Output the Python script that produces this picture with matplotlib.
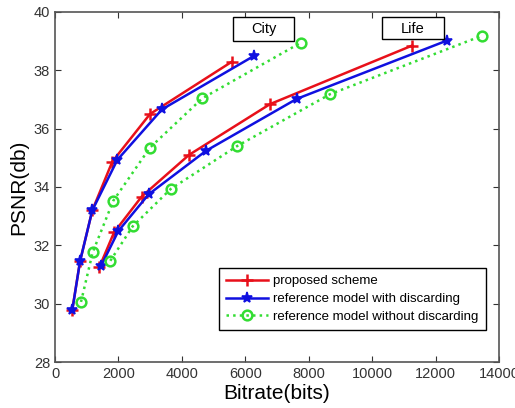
import matplotlib.pyplot as plt
from matplotlib.patches import Rectangle

plt.rcParams['font.family'] = ['Liberation Sans', 'DejaVu Sans']

# City sequence
city_prop_x = [546, 789, 1177, 1808, 2996, 5571]
city_prop_y = [29.8, 31.45, 33.2, 34.87, 36.5, 38.29]
city_disc_x = [546, 789, 1177, 1966, 3374, 6286]
city_disc_y = [29.78, 31.45, 33.2, 34.93, 36.66, 38.5]
city_nodisc_x = [820, 1188, 1839, 2996, 4646, 7758]
city_nodisc_y = [30.06, 31.76, 33.53, 35.35, 37.04, 38.95]

# Life sequence
life_prop_x = [1398, 1861, 2733, 4226, 6780, 11268]
life_prop_y = [31.25, 32.44, 33.67, 35.1, 36.84, 38.85]
life_disc_x = [1451, 1997, 2954, 4762, 7622, 12362]
life_disc_y = [31.29, 32.49, 33.75, 35.24, 37.02, 39.02]
life_nodisc_x = [1745, 2449, 3647, 5740, 8672, 13454]
life_nodisc_y = [31.47, 32.65, 33.93, 35.4, 37.18, 39.18]

fig = plt.figure(figsize=(5.15, 4.08), dpi=100)
ax = fig.add_axes([0.1068, 0.1127, 0.862, 0.858])

red = '#e8101a'
blue = '#1010e0'
green = '#33dd33'

sty_prop = dict(color=red, lw=1.8, marker='+', ms=9, mew=1.8)
sty_disc = dict(color=blue, lw=1.8, marker='*', ms=8, mew=1.2)
sty_nodisc = dict(color=green, lw=1.8, ls=':', marker='o', ms=7, mfc='none', mew=1.8)

ax.plot(city_prop_x, city_prop_y, label='proposed scheme', **sty_prop)
ax.plot(city_disc_x, city_disc_y, label='reference model with discarding', **sty_disc)
ax.plot(city_nodisc_x, city_nodisc_y, label='reference model without discarding', **sty_nodisc)
ax.plot(life_prop_x, life_prop_y, **sty_prop)
ax.plot(life_disc_x, life_disc_y, **sty_disc)
ax.plot(life_nodisc_x, life_nodisc_y, **sty_nodisc)

ax.set_xlim(0, 14000)
ax.set_ylim(28, 40)
ax.set_xticks(range(0, 14001, 2000))
ax.set_yticks(range(28, 41, 2))
ax.tick_params(direction='in', top=True, right=True, labelsize=10.5, length=4, colors='#333333')
for s in ax.spines.values():
    s.set_color('#555555')
    s.set_linewidth(1.2)

ax.set_xlabel('Bitrate(bits)', fontsize=15, labelpad=2)
ax.set_ylabel('PSNR(db)', fontsize=15, labelpad=4)

# label boxes for the two sequences
ax.add_patch(Rectangle((5613, 39.0), 1924, 0.83, fc='white', ec='black', lw=1.0, zorder=5))
ax.text(6575, 39.4, 'City', ha='center', va='center', fontsize=10.5, zorder=6)
ax.add_patch(Rectangle((10312, 39.07), 1955, 0.76, fc='white', ec='black', lw=1.0, zorder=5))
ax.text(11290, 39.43, 'Life', ha='center', va='center', fontsize=10.5, zorder=6)

leg = ax.legend(loc='lower right', bbox_to_anchor=(0.971, 0.091), borderaxespad=0,
                fontsize=9.5, fancybox=False, edgecolor='black', framealpha=1,
                handlelength=3.2, borderpad=0.55, labelspacing=0.42, handletextpad=0.4)
leg.get_frame().set_linewidth(1.0)

fig.savefig('out.png', dpi=100)
